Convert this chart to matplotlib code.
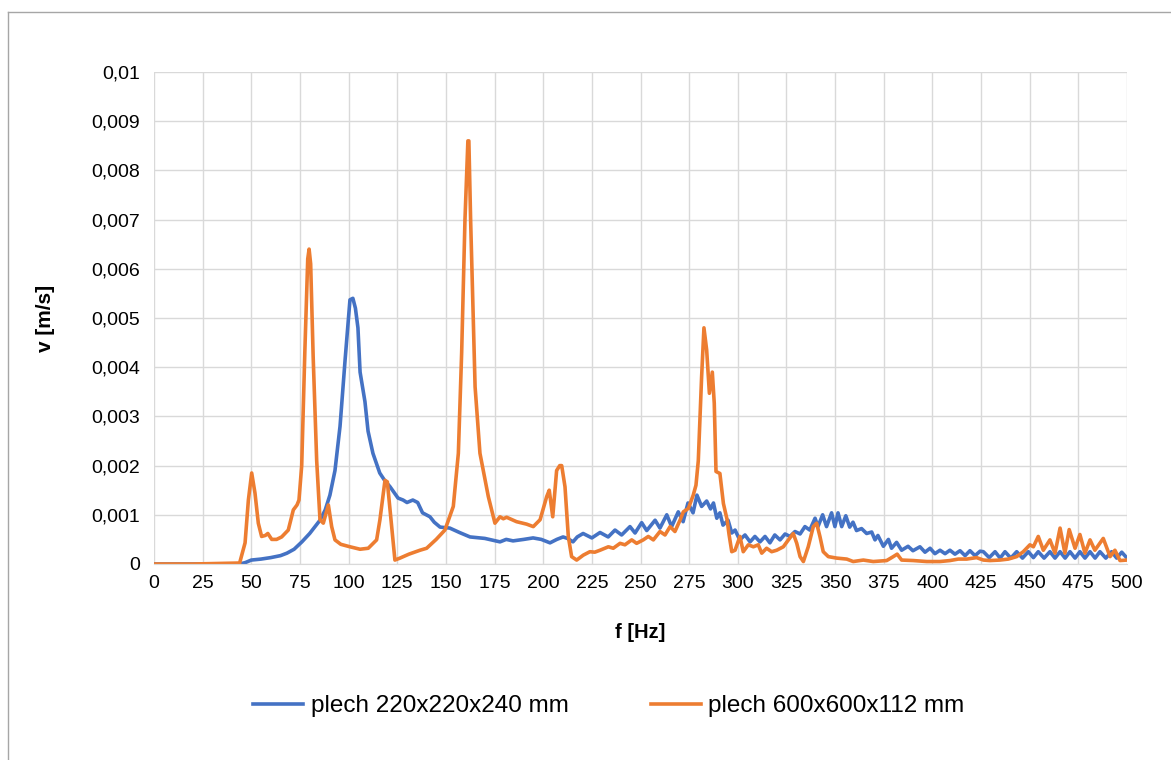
import matplotlib
matplotlib.use('Agg')
import matplotlib.pyplot as plt
from matplotlib.ticker import FuncFormatter, MultipleLocator
from matplotlib.lines import Line2D

plt.rcParams['font.family'] = ['Liberation Sans', 'DejaVu Sans']

# plech 220x220x240 mm
f_blue = [0, 20, 44, 47, 50, 55, 60, 65, 68.3, 72, 76, 80, 85.3, 88, 90.4, 93, 95.6, 98.2,
          100.7, 102.2, 103.5, 104.8, 105.9, 108.4, 110, 112.5, 116, 118.5, 121.3, 125.4,
          128, 130, 133, 135.5, 138, 141.8, 144, 147, 152, 157, 162.4, 170, 177.8, 181,
          184.5, 190, 194.8, 199, 203.5, 207, 210.2, 212.5, 215.3, 217.5, 220.5, 225,
          229.2, 233.4, 236.9, 240.3, 244.6, 247.2, 250.6, 253.2, 257.5, 260, 263.5, 266,
          269.4, 271.9, 274.4, 277, 279, 281.4, 284, 286, 287.5, 289.2, 290.8, 292.4, 295,
          296.9, 298.6, 301, 303.7, 306.3, 308.8, 311.4, 314, 316.5, 319, 321.7, 324.3,
          326.8, 329.4, 332, 334.5, 337, 339.7, 341.2, 343.6, 345.6, 348.2, 349.9, 351.5,
          353.4, 355.5, 357.5, 359.2, 361, 363.6, 366.2, 368.8, 370.5, 372, 374.8, 377.4,
          379, 381.6, 384.2, 387.5, 390, 393.6, 396.2, 398.8, 401.3, 403.9, 406.5, 409,
          411.6, 414.2, 416.8, 419.3, 421.9, 424.5, 426.2, 429.2, 432.2, 434.8, 437.3,
          440.3, 443.3, 446.3, 449.3, 451.9, 454.4, 457.4, 460.4, 463, 465.6, 468.2, 470.7,
          473.3, 475.8, 478.4, 481, 483.6, 486.1, 489.1, 492.1, 494.7, 497.3, 500]
v_blue = [0, 0, 0, 0.00003, 0.00008, 0.0001, 0.00013, 0.00017, 0.00022, 0.0003, 0.00045,
          0.00062, 0.00089, 0.0011, 0.0014, 0.0019, 0.0028, 0.00415, 0.00537, 0.0054,
          0.0052, 0.0048, 0.0039, 0.0033, 0.0027, 0.00225, 0.00185, 0.0017, 0.00157,
          0.00134, 0.0013, 0.00125, 0.0013, 0.00125, 0.00104, 0.00096, 0.00085, 0.00075,
          0.00073, 0.00064, 0.00055, 0.00052, 0.00045, 0.0005, 0.00047, 0.0005, 0.00053,
          0.0005, 0.00043, 0.0005, 0.00055, 0.00052, 0.00045, 0.00055, 0.00062, 0.00053,
          0.00064, 0.00055, 0.00069, 0.00059, 0.00076, 0.00063, 0.00084, 0.00068, 0.00089,
          0.00073, 0.001, 0.00076, 0.00106, 0.00086, 0.00124, 0.00104, 0.0014, 0.00117,
          0.00128, 0.00112, 0.00124, 0.00093, 0.00104, 0.00079, 0.00089, 0.00063, 0.00069,
          0.00049, 0.00059, 0.00045, 0.00056, 0.00045, 0.00056, 0.00043, 0.00059, 0.00049,
          0.00061, 0.00056, 0.00066, 0.00061, 0.00076, 0.00069, 0.00093, 0.00076, 0.001,
          0.00076, 0.00104, 0.00076, 0.00104, 0.00076, 0.00098, 0.00075, 0.00085, 0.00068,
          0.00072, 0.00062, 0.00065, 0.00049, 0.00058, 0.00036, 0.0005, 0.00032, 0.00044,
          0.00028, 0.00036, 0.00027, 0.00035, 0.00024, 0.00032, 0.00021, 0.00028, 0.00021,
          0.00028, 0.0002, 0.00027, 0.00017, 0.00027, 0.00017, 0.00026, 0.00025, 0.00013,
          0.00025, 0.00012, 0.00025, 0.00012, 0.00025, 0.00012, 0.00025, 0.00013, 0.00025,
          0.00012, 0.00025, 0.00012, 0.00025, 0.00012, 0.00025, 0.00012, 0.00025, 0.00012,
          0.00025, 0.00012, 0.00025, 0.00012, 0.00025, 0.00012, 0.00024, 0.00012]

# plech 600x600x112 mm
f_orange = [0, 20, 44, 46.8, 48.5, 50.2, 51.9, 53.6, 55.3, 57.2, 58.5, 60.5, 63, 65.6, 69,
            71.6, 73.5, 74.5, 75.9, 77.5, 79, 79.7, 80.5, 81.8, 83.6, 85.3, 87, 89.6, 91.3,
            93, 96, 100.7, 105.9, 110.1, 114.4, 116.1, 118.7, 119.9, 122.1, 123.8, 126.4,
            131, 136.7, 140.1, 145, 149.5, 153.8, 156.4, 158.1, 159.8, 161.3, 161.8, 162.7,
            165, 167.5, 171.8, 175.2, 177.8, 179.5, 181.2, 186.3, 191.5, 194.9, 198.4, 201.8,
            203.1, 204.9, 206.9, 208.5, 209.5, 211.2, 212.9, 214.6, 217.2, 220.6, 224, 226.5,
            229.2, 233.5, 236, 239.5, 242, 245.5, 248, 251.4, 254, 256.6, 260, 262.6, 265.2,
            267.7, 270.3, 272, 274.6, 277.1, 278.5, 279.7, 281.4, 282.6, 284, 285.4, 286.9,
            287.9, 288.8, 290.8, 292.6, 294.5, 295.5, 296.9, 298.6, 301.1, 302.8, 305.4, 308,
            310.5, 312.3, 314.8, 317.4, 320, 323.4, 326, 328.5, 330.3, 332, 333.7, 336.2,
            338.8, 340.5, 342.2, 343.9, 346.5, 350.8, 356, 359.3, 364.5, 369.6, 376.5, 379.9,
            381.9, 384.2, 390.2, 397.1, 403.9, 409, 413.3, 417.6, 422.7, 426.2, 429.6, 434.7,
            439, 443.3, 446.7, 450.1, 451.9, 454.4, 457, 460.4, 463, 465.6, 468.1, 470.3,
            473.3, 475.8, 478.4, 481, 483.5, 487.8, 491.3, 493.8, 496.4, 500]
v_orange = [0, 0, 0.00002, 0.00043, 0.0013, 0.00185, 0.00144, 0.00083, 0.00056, 0.00058,
            0.00062, 0.0005, 0.0005, 0.00055, 0.00069, 0.0011, 0.0012, 0.0013, 0.002, 0.0043,
            0.0062, 0.0064, 0.0061, 0.0042, 0.0021, 0.0009, 0.00083, 0.0012, 0.00076,
            0.00049, 0.0004, 0.00035, 0.0003, 0.00032, 0.00049, 0.0009, 0.0017, 0.00167,
            0.00076, 0.00008, 0.00012, 0.0002, 0.00028, 0.00032, 0.0005, 0.00069, 0.00117,
            0.00225, 0.0043, 0.007, 0.0086, 0.0086, 0.007, 0.0036, 0.00225, 0.00137, 0.00083,
            0.00096, 0.00092, 0.00095, 0.00086, 0.00081, 0.00076, 0.0009, 0.00137, 0.0015,
            0.00096, 0.0019, 0.002, 0.002, 0.00157, 0.00056, 0.00015, 0.00008, 0.00018,
            0.00025, 0.00024, 0.00028, 0.00035, 0.00032, 0.00042, 0.00039, 0.00049, 0.00042,
            0.00049, 0.00056, 0.00049, 0.00066, 0.00059, 0.00076, 0.00066, 0.00089, 0.00106,
            0.00113, 0.0014, 0.0016, 0.0021, 0.0038, 0.0048, 0.00435, 0.00347, 0.0039,
            0.00327, 0.00188, 0.00184, 0.00123, 0.0009, 0.0006, 0.00025, 0.00028, 0.00056,
            0.00025, 0.00039, 0.00035, 0.00039, 0.00022, 0.00032, 0.00025, 0.00028, 0.00035,
            0.00049, 0.00062, 0.00042, 0.00015, 0.00005, 0.00035, 0.00076, 0.00083, 0.00056,
            0.00025, 0.00015, 0.00012, 0.0001, 0.00005, 0.00008, 0.00005, 0.00007, 0.00015,
            0.0002, 0.00008, 0.00007, 0.00005, 0.00005, 0.00007, 0.0001, 0.0001, 0.00013,
            0.00008, 0.00007, 0.00008, 0.0001, 0.00015, 0.00025, 0.00039, 0.00035, 0.00056,
            0.00028, 0.00049, 0.00022, 0.00073, 0.00022, 0.0007, 0.00032, 0.0006, 0.00022,
            0.00049, 0.00028, 0.00052, 0.00015, 0.00028, 0.00007, 0.00008]

labels = ['plech 220x220x240 mm', 'plech 600x600x112 mm']
colors = ['#4472C4', '#ED7D31']

fig = plt.figure(figsize=(11.71, 7.6), dpi=100)
ax = fig.add_axes([154 / 1171, 1 - 564 / 760, (1127 - 154) / 1171, (564 - 72) / 760])

ax.plot(f_blue, v_blue, color=colors[0], lw=2.6, solid_joinstyle='round', label=labels[0])
ax.plot(f_orange, v_orange, color=colors[1], lw=2.6, solid_joinstyle='round', label=labels[1])

ax.set_xlim(0, 500)
ax.set_ylim(0, 0.01)
ax.xaxis.set_major_locator(MultipleLocator(25))
ax.yaxis.set_major_locator(MultipleLocator(0.001))
ax.yaxis.set_major_formatter(FuncFormatter(lambda v, p: ('%g' % round(v, 4)).replace('.', ',')))
ax.grid(True, color='#D9D9D9', lw=1.0)
ax.set_axisbelow(True)
for s in ['top', 'right', 'left']:
    ax.spines[s].set_visible(False)
ax.spines['bottom'].set_color('#D9D9D9')
ax.tick_params(length=0, labelsize=14, colors='#000000')
ax.tick_params(axis='y', pad=10)
ax.tick_params(axis='x', pad=8)

ax.set_xlabel('f [Hz]', fontsize=14.5, fontweight='bold', labelpad=22)
ax.set_ylabel('v [m/s]', fontsize=15, fontweight='bold', labelpad=26)

fig.legend(loc='center', bbox_to_anchor=(0.52, 1 - 706 / 760), ncol=2, frameon=False,
           fontsize=17.5, handlelength=2.05, handletextpad=0.3, columnspacing=3.4)

# chart border
fig.add_artist(Line2D([8 / 1171, 8 / 1171], [0, 1 - 12 / 760], color='#A6A6A6', lw=1,
                      transform=fig.transFigure))
fig.add_artist(Line2D([8 / 1171, 1], [1 - 12 / 760, 1 - 12 / 760], color='#A6A6A6', lw=1,
                      transform=fig.transFigure))

fig.savefig('out.png', dpi=100)
